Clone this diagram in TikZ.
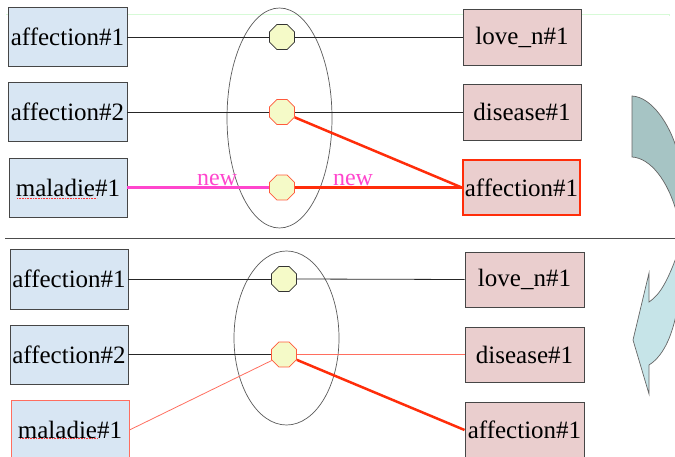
\documentclass[tikz,border=0pt]{standalone}
\usepackage{fontspec}
\setmainfont{Liberation Serif}
\usetikzlibrary{shapes.geometric}
\definecolor{lbox}{RGB}{216,230,243}
\definecolor{rbox}{RGB}{234,206,206}
\definecolor{boxline}{RGB}{70,70,70}
\definecolor{octfill}{RGB}{245,250,200}
\definecolor{octred}{RGB}{255,90,60}
\definecolor{thickred}{RGB}{255,45,10}
\definecolor{newmag}{RGB}{255,70,205}
\definecolor{salmon}{RGB}{255,110,95}
\definecolor{arrtop}{RGB}{166,196,196}
\definecolor{arrbot}{RGB}{198,228,232}
\definecolor{faintgreen}{RGB}{215,250,215}
\tikzset{
  wordbox/.style={draw=boxline, line width=0.9pt, inner sep=0pt, font=\fontsize{25}{29}\selectfont},
  lword/.style={wordbox, fill=lbox},
  rword/.style={wordbox, fill=rbox},
  octa/.style={regular polygon, regular polygon sides=8, minimum size=27pt, inner sep=0pt, fill=octfill, line width=0.8pt},
  octblack/.style={octa, draw=black!80},
  octorange/.style={octa, draw=octred},
  thinline/.style={draw=black!85, line width=0.8pt},
  redthick/.style={draw=thickred, line width=2.5pt},
  magline/.style={draw=newmag, line width=2.5pt},
  salmonline/.style={draw=salmon, line width=0.8pt},
  newlabel/.style={text=newmag, font=\fontsize{24}{28}\selectfont, inner sep=0pt},
  synring/.style={draw=black!65, line width=0.7pt}
}
\begin{document}
\begin{tikzpicture}[x=1pt,y=-1pt]
\useasboundingbox (0,0) rectangle (675,457);
\clip (0,0) rectangle (675,457);
% faint green guide line
\draw[faintgreen, line width=0.8pt] (6,14) -- (669,14) -- (669,16);
% separator
\draw[black!70, line width=1pt] (5,239) -- (676,239);

% ===== top panel =====
\draw[synring] (279.5,118) ellipse [x radius=52.5pt, y radius=110pt];
\node[lword, minimum width=119pt, minimum height=59pt] (la1) at (67.5,37) {affection\#1};
\node[lword, minimum width=119pt, minimum height=59pt] (la2) at (67.5,112) {affection\#2};
\node[lword, minimum width=118pt, minimum height=59pt] (lm) at (68,187.5) {maladie\#1};
\node[rword, minimum width=118pt, minimum height=56pt] (r1) at (522,37) {love\_n\#1};
\node[rword, minimum width=118pt, minimum height=56pt] (r2) at (522,112) {disease\#1};
\node[rword, draw=thickred, line width=2.5pt, minimum width=117pt, minimum height=55pt] (r3) at (521.5,187.5) {affection\#1};
\node[octblack] (o1) at (282,37) {};
\node[octorange] (o2) at (282,112) {};
\node[octorange] (o3) at (282,187.5) {};
\draw[thinline] (la1.east) -- (o1.west);
\draw[thinline] (o1.east) -- (r1.west);
\draw[thinline] (la2.east) -- (o2.west);
\draw[thinline] (o2.east) -- (r2.west);
\draw[magline] (lm.east) -- (o3.west);
\draw[redthick] (o3.east) -- (r3.west);
\draw[redthick] (o2) -- (r3.west);
\node[newlabel, anchor=base] (n1) at (217,186) {new};
\node[newlabel, anchor=base] (n2) at (353,186) {new};
\draw[red!80, line width=0.6pt, densely dotted] (17,198) -- (97,198);

% ===== bottom panel =====
\draw[synring] (286.5,338) ellipse [x radius=52.5pt, y radius=87pt];
\node[lword, minimum width=118pt, minimum height=60pt] (ba1) at (69,279) {affection\#1};
\node[lword, minimum width=118pt, minimum height=59pt] (ba2) at (69,354.5) {affection\#2};
\node[lword, draw=salmon, minimum width=118pt, minimum height=60pt] (bm) at (70,430) {maladie\#1};
\node[rword, minimum width=119pt, minimum height=55pt] (br1) at (524.5,279.5) {love\_n\#1};
\node[rword, minimum width=119pt, minimum height=55pt] (br2) at (524.5,354.5) {disease\#1};
\node[rword, minimum width=119pt, minimum height=56pt] (br3) at (524.5,430) {affection\#1};
\node[octblack] (bo1) at (284,279) {};
\node[octorange] (bo2) at (284,354.5) {};
\draw[thinline] (ba1.east) -- (bo1.west);
\draw[thinline] (bo1.east) -- (br1.west);
\draw[thinline] (ba2.east) -- (bo2.west);
\draw[salmonline] (bo2.east) -- (br2.west);
\draw[salmonline] (bm.east) -- (bo2);
\draw[redthick] (bo2) -- (br3.west);
\draw[red!80, line width=0.6pt, densely dotted] (20,438) -- (97,438);

% ===== curved arrow at right =====
\draw[fill=arrtop, draw=black!60, line width=0.7pt]
  (632,96) -- (632,157)
  .. controls (650,158) and (668,180) .. (677,214)
  -- (700,214) -- (700,150) -- (677,150)
  .. controls (670,125) and (652,97) .. (632,96) -- cycle;
\draw[fill=arrbot, draw=black!60, line width=0.7pt]
  (677,255) .. controls (668,280) and (660,295) .. (649,302)
  -- (649,273) -- (633,340) -- (649,394) -- (649,365)
  .. controls (665,355) and (673,332) .. (677,310)
  -- (700,310) -- (700,255) -- cycle;
\end{tikzpicture}
\end{document}
